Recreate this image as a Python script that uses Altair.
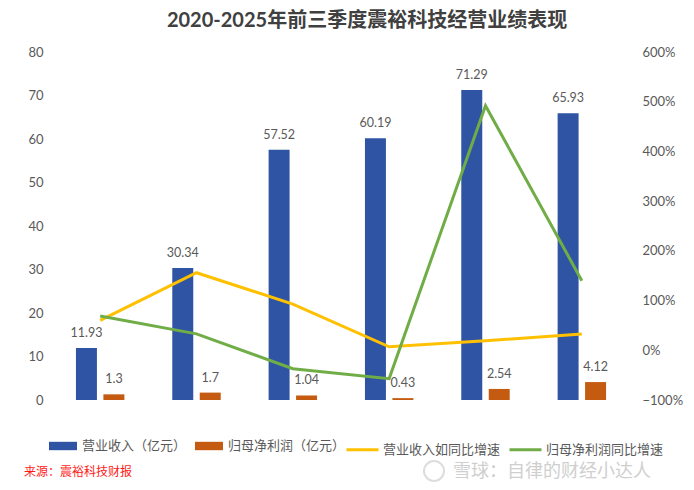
import altair as alt
import pandas as pd

categories = ["2020年", "2021年", "2022年", "2023年", "2024年", "2025年前三季度"]
revenue = [11.93, 30.34, 57.52, 60.19, 71.29, 65.93]
profit = [1.3, 1.7, 1.04, 0.43, 2.54, 4.12]
rev_growth = [0.60, 1.56, 0.93, 0.07, 0.19, 0.33]
profit_growth = [0.69, 0.33, -0.37, -0.57, 4.92, 1.40]

bar_series = ["营业收入（亿元）", "归母净利润（亿元）"]
line_series = ["营业收入如同比增速", "归母净利润同比增速"]
bar_colors = ["#2F54A3", "#C55A11"]
line_colors = ["#FFC000", "#70AD47"]

FONT = "Lato, 'Noto Sans CJK SC', sans-serif"
GRAY = "#595959"

bars_df = pd.DataFrame(
    [{"cat": c, "series": bar_series[0], "value": v} for c, v in zip(categories, revenue)]
    + [{"cat": c, "series": bar_series[1], "value": v} for c, v in zip(categories, profit)]
)
lines_df = pd.DataFrame(
    [{"cat": c, "series": line_series[0], "g": v} for c, v in zip(categories, rev_growth)]
    + [{"cat": c, "series": line_series[1], "g": v} for c, v in zip(categories, profit_growth)]
)

x_scale = alt.Scale(paddingInner=0.43, paddingOuter=0.215)
x_enc = alt.X(
    "cat:N",
    sort=categories,
    scale=x_scale,
    axis=alt.Axis(
        title=None, labelAngle=0, ticks=False, domainColor="#D9D9D9", domainWidth=1,
        labelColor=GRAY, labelFontSize=13, labelPadding=9, labelFont=FONT,
    ),
)
xoff = alt.XOffset("series:N", sort=bar_series, scale=alt.Scale(paddingInner=0.236, paddingOuter=0.118))
y_bar = alt.Y(
    "value:Q",
    scale=alt.Scale(domain=[0, 80]),
    axis=alt.Axis(
        title=None, values=list(range(0, 81, 10)), grid=False, domain=False, ticks=False,
        labelColor=GRAY, labelFontSize=13, labelPadding=9, labelFont=FONT,
    ),
)

bar_symbol = "M-1,-0.3H1V0.3H-1Z"

bars = alt.Chart(bars_df).mark_bar().encode(
    x=x_enc,
    xOffset=xoff,
    y=y_bar,
    color=alt.Color(
        "series:N",
        sort=bar_series,
        scale=alt.Scale(domain=bar_series, range=bar_colors),
        legend=alt.Legend(
            title=None, orient="none", legendX=-3, legendY=380, direction="horizontal",
            symbolType=bar_symbol, symbolSize=784, symbolStrokeWidth=0,
            labelFontSize=13, labelColor=GRAY, labelFont=FONT, labelOffset=5,
            columnPadding=8,
        ),
    ),
)

bar_text = alt.Chart(bars_df).mark_text(
    baseline="bottom", dy=-8, fontSize=12.5, color=GRAY, font=FONT
).encode(
    x=alt.X("cat:N", sort=categories, scale=x_scale, axis=None),
    xOffset=xoff,
    y=alt.Y("value:Q", scale=alt.Scale(domain=[0, 80]), axis=None),
    text=alt.Text("value:Q"),
)

lines = alt.Chart(lines_df).mark_line(strokeWidth=3).encode(
    x=alt.X("cat:N", sort=categories, scale=x_scale, axis=None),
    y=alt.Y(
        "g:Q",
        scale=alt.Scale(domain=[-1, 6]),
        axis=alt.Axis(
            title=None, orient="right", values=[-1, 0, 1, 2, 3, 4, 5, 6], format=".0%",
            grid=False, domain=False, ticks=False, labelColor=GRAY, labelFontSize=13,
            labelPadding=12, labelFont=FONT,
        ),
    ),
    stroke=alt.Stroke(
        "series:N",
        sort=line_series,
        scale=alt.Scale(domain=line_series, range=line_colors),
        legend=alt.Legend(
            title=None, orient="none", legendX=293, legendY=380, direction="horizontal",
            symbolType="stroke", symbolSize=1024, symbolStrokeWidth=3,
            labelFontSize=13, labelColor=GRAY, labelFont=FONT, labelOffset=3,
            columnPadding=2,
        ),
    ),
    detail="series:N",
)

note_df = pd.DataFrame({"t": ["来源：震裕科技财报"]})
source_text = alt.Chart(note_df).mark_text(
    align="left", baseline="middle", fontSize=12, color="#FF1A1A", font="'Noto Sans CJK SC'"
).encode(x=alt.value(-28), y=alt.value(420), text="t:N")

wm_df = pd.DataFrame({"t": ["雪球：自律的财经小达人"]})
watermark = alt.Chart(wm_df).mark_text(
    align="left", baseline="middle", fontSize=18, color="#CFCFCF", font="'Noto Sans CJK SC'"
).encode(x=alt.value(401), y=alt.value(419.5), text="t:N")
logo = alt.Chart(wm_df).mark_point(
    shape="circle", size=400, strokeWidth=2, color="#CFCFCF", filled=False
).encode(x=alt.value(382), y=alt.value(419))

chart = alt.layer(bars, bar_text, lines, source_text, logo, watermark).resolve_scale(
    y="independent"
).properties(
    width=578,
    height=348,
    autosize=alt.AutoSizeParams(type="none"),
    padding={"left": 44, "top": 44, "right": 56, "bottom": 82},
    title=alt.TitleParams(
        "2020-2025年前三季度震裕科技经营业绩表现",
        fontSize=20, fontWeight="bold", color="#404040", font=FONT,
        anchor="middle", offset=15, dx=26,
    ),
    background="white",
).configure_view(stroke=None)

chart.save("out.html", embed_options={"renderer": "svg", "actions": False})
